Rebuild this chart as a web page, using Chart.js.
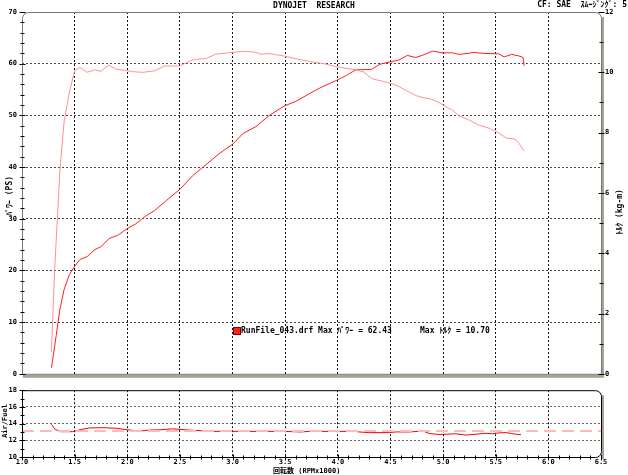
<!DOCTYPE html>
<html>
<head>
<meta charset="utf-8">
<script src="https://cdn.jsdelivr.net/npm/chart.js@4.4.1/dist/chart.umd.min.js"></script>
<style>
  body { margin: 0; background: #fff; }
  #wrap { position: relative; width: 628px; height: 475px; }
  #top, #bottom { position: absolute; left: 0; }
  #top { top: 0; }
  #bottom { top: 381px; }
</style>
</head>
<body>
<div id="wrap">
  <canvas id="top" width="628" height="383"></canvas>
  <canvas id="bottom" width="628" height="94"></canvas>
</div>
<script>
// rpm in x1000
const torqueRpm = [1.28, 1.31, 1.36, 1.40, 1.45, 1.50, 1.55, 1.62, 1.69, 1.75, 1.82, 1.90, 2.00, 2.05, 2.15, 2.26, 2.35, 2.50, 2.62, 2.75, 2.84, 2.97, 3.11, 3.21, 3.27, 3.35, 3.49, 3.60, 3.73, 3.86, 3.98, 4.08, 4.17, 4.24, 4.33, 4.43, 4.55, 4.62, 4.74, 4.81, 4.88, 4.96, 5.03, 5.09, 5.15, 5.25, 5.34, 5.44, 5.52, 5.60, 5.68, 5.72, 5.77];
const torqueVals = [0.73, 3.46, 6.73, 8.36, 9.34, 10.05, 10.16, 10.0, 10.08, 10.03, 10.24, 10.1, 10.05, 10.02, 10.0, 10.05, 10.21, 10.21, 10.41, 10.46, 10.6, 10.65, 10.70, 10.67, 10.6, 10.62, 10.54, 10.45, 10.36, 10.29, 10.19, 10.13, 10.08, 10.02, 9.78, 9.70, 9.58, 9.45, 9.23, 9.16, 9.12, 9.0, 8.85, 8.74, 8.56, 8.41, 8.25, 8.14, 8.01, 7.82, 7.79, 7.65, 7.38];

const powerRpm = [1.28, 1.325, 1.36, 1.40, 1.45, 1.50, 1.55, 1.62, 1.69, 1.75, 1.83, 1.91, 2.00, 2.08, 2.18, 2.26, 2.37, 2.50, 2.62, 2.75, 2.88, 3.00, 3.10, 3.22, 3.35, 3.49, 3.60, 3.73, 3.83, 3.98, 4.08, 4.17, 4.32, 4.40, 4.49, 4.58, 4.66, 4.74, 4.80, 4.90, 4.99, 5.09, 5.15, 5.25, 5.28, 5.38, 5.53, 5.58, 5.65, 5.72, 5.76, 5.77];
const powerVals = [1.2, 7.4, 12.5, 16.3, 19.2, 20.8, 22.1, 22.7, 24.0, 24.6, 26.2, 26.8, 28.1, 29.0, 30.6, 31.6, 33.5, 35.7, 38.3, 40.5, 42.7, 44.4, 46.5, 47.8, 50.0, 51.8, 52.7, 54.2, 55.3, 56.7, 57.7, 58.8, 58.9, 59.9, 60.3, 60.7, 61.6, 61.2, 61.6, 62.43, 62.1, 62.1, 61.8, 62.0, 62.2, 62.0, 61.9, 61.3, 61.8, 61.5, 61.2, 59.6];

const afRpm = [1.28, 1.31, 1.36, 1.48, 1.56, 1.64, 1.77, 1.90, 2.00, 2.12, 2.21, 2.31, 2.43, 2.59, 2.80, 3.00, 3.49, 3.57, 3.65, 3.73, 4.02, 4.17, 4.20, 4.30, 4.49, 4.55, 4.68, 4.81, 4.87, 4.96, 5.03, 5.12, 5.22, 5.31, 5.41, 5.47, 5.53, 5.60, 5.65, 5.69, 5.74];
const afVals = [13.92, 13.37, 13.03, 13.03, 13.29, 13.48, 13.51, 13.44, 13.26, 13.11, 13.22, 13.26, 13.37, 13.22, 13.07, 13.07, 13.07, 13.03, 13.0, 13.07, 13.07, 13.07, 13.0, 12.92, 12.92, 13.0, 13.0, 13.11, 12.81, 12.7, 12.73, 12.78, 12.62, 12.73, 12.84, 12.78, 12.89, 12.92, 12.81, 12.73, 12.67];
const afTarget = 13.1;

const runName = 'RunFile_043.drf';

const monoFam = '"DejaVu Sans Mono", "Noto Sans CJK JP", monospace';
const tickFont = { family: monoFam, size: 7, weight: 'bold' };

function pts(xs, ys) {
  return xs.map((x, i) => ({ x: x, y: ys[i] }));
}

// hide grid line on the frame edges
function gridColor(min, max, col) {
  return c => {
    if (!c.tick) return col;
    const v = c.tick.value;
    return (Math.abs(v - min) < 1e-6 || Math.abs(v - max) < 1e-6) ? 'rgba(0,0,0,0)' : col;
  };
}

function framePath(ctx, L, T, R, B, rad) {
  // rad = [tl, tr, br, bl]
  ctx.beginPath();
  ctx.moveTo(L + rad[0], T);
  ctx.lineTo(R - rad[1], T);
  if (rad[1]) ctx.arcTo(R, T, R, T + rad[1], rad[1]);
  ctx.lineTo(R, B - rad[2]);
  if (rad[2]) ctx.arcTo(R, B, R - rad[2], B, rad[2]);
  ctx.lineTo(L + rad[3], B);
  if (rad[3]) ctx.arcTo(L, B, L, B - rad[3], rad[3]);
  ctx.lineTo(L, T + rad[0]);
  if (rad[0]) ctx.arcTo(L, T, L + rad[0], T, rad[0]);
  ctx.closePath();
}

function makeFrame(cfg) {
  return {
    id: 'frame',
    afterDraw(chart) {
      const ctx = chart.ctx, a = chart.chartArea;
      const L = a.left + 0.5, R = a.right + 0.5, T = a.top + 0.5, B = a.bottom + 0.5;
      ctx.save();
      // shadow
      ctx.fillStyle = '#a8a292';
      ctx.fillRect(a.right + 1, a.top + 5, 2, a.bottom - a.top - 3);
      if (cfg.shadowBottom) ctx.fillRect(a.left + 1, a.bottom + 1, a.right - a.left + 2, 3);
      // outline
      ctx.strokeStyle = cfg.lineColor;
      ctx.lineWidth = 1;
      framePath(ctx, L, T, R, B, cfg.radius);
      ctx.stroke();
      // small ticks across the frame
      ctx.strokeStyle = '#000';
      cfg.ticks.forEach(t => {
        const s = chart.scales[t.scale];
        const n = Math.round((t.to - t.from) / t.step);
        for (let i = 0; i <= n; i++) {
          const v = t.from + i * t.step;
          const major = Math.abs(v / t.major - Math.round(v / t.major)) < 1e-6;
          const len = major ? 3 : 2;
          const p = Math.round(s.getPixelForValue(v)) + 0.5;
          const at = t.at === 'left' ? L : t.at === 'right' ? R : B;
          ctx.beginPath();
          if (s.isHorizontal()) {
            ctx.moveTo(p, at - len); ctx.lineTo(p, at + len);
          } else {
            ctx.moveTo(at - len, p); ctx.lineTo(at + len, p);
          }
          ctx.stroke();
        }
      });
      ctx.restore();
    }
  };
}

function makeTexts(items, extra) {
  return {
    id: 'texts',
    afterDraw(chart) {
      const ctx = chart.ctx;
      ctx.save();
      items.forEach(t => {
        ctx.save();
        ctx.font = t.font || ('bold 8px ' + monoFam);
        ctx.fillStyle = t.color || '#000';
        ctx.textAlign = t.align || 'left';
        ctx.textBaseline = 'middle';
        ctx.translate(t.x, t.y);
        if (t.rotate) ctx.rotate(t.rotate);
        ctx.fillText(t.text, 0, 0);
        ctx.restore();
      });
      if (extra) extra(ctx, chart);
      ctx.restore();
    }
  };
}

const maxPower = Math.max(...powerVals).toFixed(2);
const maxTorque = Math.max(...torqueVals).toFixed(2);

const topTexts = [
  { text: 'DYNOJET  RESEARCH', x: 314, y: 6, align: 'center' },
  { text: 'CF: SAE  ｽﾑｰｼﾞﾝｸﾞ: 5', x: 627, y: 5, align: 'right' },
  { text: 'ﾊﾟﾜｰ (PS)', x: 10, y: 196, align: 'center', rotate: -Math.PI / 2 },
  { text: 'ﾄﾙｸ (kg-m)', x: 620, y: 212, align: 'center', rotate: -Math.PI / 2 },
  { text: runName + ' Max ﾊﾟﾜｰ = ' + maxPower, x: 241, y: 331 },
  { text: 'Max ﾄﾙｸ = ' + maxTorque, x: 420, y: 331 }
];

function legendBox(ctx) {
  ctx.fillStyle = '#ff2020';
  ctx.fillRect(234, 328, 6, 6);
  ctx.strokeStyle = '#800000';
  ctx.strokeRect(233.5, 327.5, 7, 7);
}

new Chart(document.getElementById('top'), {
  type: 'line',
  data: {
    datasets: [
      {
        label: 'Torque',
        data: pts(torqueRpm, torqueVals),
        yAxisID: 'yT',
        borderColor: 'rgb(255,145,145)',
        borderWidth: 1,
        pointRadius: 0,
        tension: 0
      },
      {
        label: 'Power',
        data: pts(powerRpm, powerVals),
        yAxisID: 'y',
        borderColor: 'rgb(255,30,30)',
        borderWidth: 1,
        pointRadius: 0,
        tension: 0
      }
    ]
  },
  options: {
    responsive: false,
    animation: false,
    layout: { padding: { top: 12, bottom: 4, left: 0, right: 0 } },
    plugins: { legend: { display: false }, tooltip: { enabled: false } },
    scales: {
      x: {
        type: 'linear', min: 1, max: 6.5,
        ticks: { display: false, stepSize: 0.5 },
        grid: { drawTicks: false, color: gridColor(1, 6.5, '#111') },
        border: { display: false, dash: [2, 2] },
        afterFit: s => { s.height = 0; }
      },
      y: {
        position: 'left', min: 0, max: 70,
        ticks: { stepSize: 10, padding: 5, font: tickFont, color: '#000' },
        grid: { drawTicks: false, color: gridColor(0, 70, '#444') },
        border: { display: false, dash: [2, 2] },
        afterFit: s => { s.width = 22; }
      },
      yT: {
        position: 'right', min: 0, max: 12,
        ticks: { stepSize: 2, padding: 4, font: tickFont, color: '#000' },
        grid: { drawOnChartArea: false, drawTicks: false },
        border: { display: false },
        afterFit: s => { s.width = 27; }
      }
    }
  },
  plugins: [
    makeFrame({
      lineColor: '#777', shadowBottom: true, radius: [6, 6, 0, 0],
      ticks: [
        { scale: 'y', from: 0, to: 70, step: 2, major: 10, at: 'left' },
        { scale: 'yT', from: 0, to: 12, step: 1, major: 2, at: 'right' }
      ]
    }),
    makeTexts(topTexts, legendBox)
  ]
});

new Chart(document.getElementById('bottom'), {
  type: 'line',
  data: {
    datasets: [
      {
        label: 'Target',
        data: [{ x: 1, y: afTarget }, { x: 6.5, y: afTarget }],
        borderColor: 'rgb(255,185,185)',
        borderWidth: 2,
        borderDash: [12, 6],
        pointRadius: 0
      },
      {
        label: 'Air/Fuel',
        data: pts(afRpm, afVals),
        borderColor: 'rgb(245,0,0)',
        borderWidth: 1,
        pointRadius: 0,
        tension: 0
      }
    ]
  },
  options: {
    responsive: false,
    animation: false,
    layout: { padding: { top: 4, bottom: 0, left: 0, right: 27 } },
    plugins: { legend: { display: false }, tooltip: { enabled: false } },
    scales: {
      x: {
        type: 'linear', min: 1, max: 6.5,
        ticks: {
          stepSize: 0.5, autoSkip: false, maxRotation: 0, padding: 1,
          font: tickFont, color: '#000',
          callback: v => Number(v).toFixed(1)
        },
        grid: { drawTicks: false, color: gridColor(1, 6.5, '#111') },
        border: { display: false, dash: [2, 2] },
        afterFit: s => { s.height = 18; }
      },
      y: {
        min: 10, max: 18,
        ticks: { stepSize: 2, padding: 5, font: tickFont, color: '#000' },
        grid: { drawTicks: false, color: gridColor(10, 18, '#666') },
        border: { display: false, dash: [2, 2] },
        afterFit: s => { s.width = 22; }
      }
    }
  },
  plugins: [
    makeFrame({
      lineColor: '#000', shadowBottom: false, radius: [0, 6, 6, 0],
      ticks: [
        { scale: 'y', from: 10, to: 18, step: 1, major: 2, at: 'left' },
        { scale: 'x', from: 1, to: 6.5, step: 0.1, major: 0.5, at: 'bottom' }
      ]
    }),
    makeTexts([
      { text: 'Air/Fuel', x: 5, y: 40, align: 'center', rotate: -Math.PI / 2, font: 'bold 7px ' + monoFam },
      { text: '回転数 (RPMx1000)', x: 273, y: 90, font: 'bold 7px ' + monoFam }
    ])
  ]
});
</script>
</body>
</html>
